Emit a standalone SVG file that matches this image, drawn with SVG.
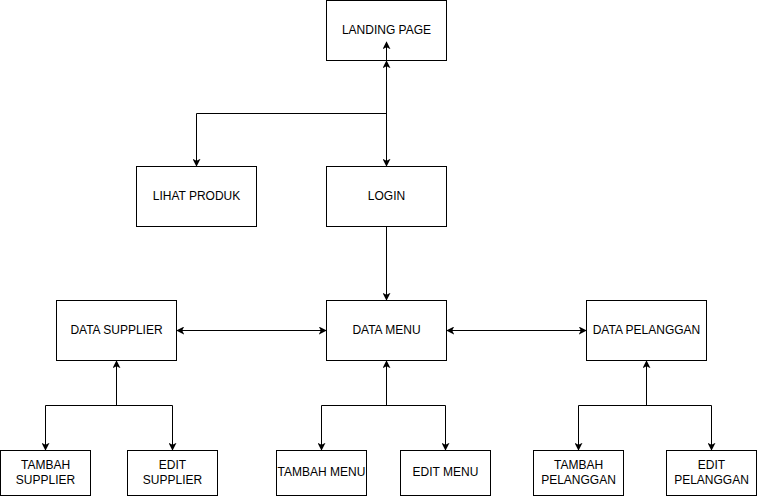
<svg xmlns="http://www.w3.org/2000/svg" width="757" height="496" viewBox="0 0 757 496">
<defs>
<marker id="arr" viewBox="0 0 10 10" refX="9" refY="5" markerWidth="8" markerHeight="8" markerUnits="userSpaceOnUse" orient="auto-start-reverse">
<path d="M0,0 L10,5 L0,10 L2.5,5 Z" fill="#000"/>
</marker>
</defs>
<style>
.box{fill:#fff;stroke:#000;stroke-width:1}
.lbl{font-family:"Liberation Sans",Arial,sans-serif;font-size:12px;fill:#000;text-anchor:middle;dominant-baseline:central}
.edge{fill:none;stroke:#000;stroke-width:1}
</style>
<rect width="757" height="496" fill="#fff"/>
<g id="landing"><rect class="box" x="326.5" y="0.5" width="120" height="60"/><text class="lbl" x="386.5" y="30">LANDING PAGE</text></g>
<g id="lihat"><rect class="box" x="136.5" y="166.5" width="120" height="60"/><text class="lbl" x="196.5" y="196">LIHAT PRODUK</text></g>
<g id="login"><rect class="box" x="326.5" y="166.5" width="120" height="60"/><text class="lbl" x="386.5" y="196">LOGIN</text></g>
<g id="supplier"><rect class="box" x="56.5" y="300.5" width="120" height="60"/><text class="lbl" x="116.5" y="330">DATA SUPPLIER</text></g>
<g id="menu"><rect class="box" x="326.5" y="300.5" width="120" height="60"/><text class="lbl" x="386.5" y="330">DATA MENU</text></g>
<g id="pelanggan"><rect class="box" x="586.5" y="300.5" width="120" height="60"/><text class="lbl" x="646.5" y="330">DATA PELANGGAN</text></g>
<g id="tambahsupplier"><rect class="box" x="0.5" y="450.5" width="90" height="45"/><text class="lbl" x="45.5" y="465">TAMBAH</text><text class="lbl" x="45.5" y="480">SUPPLIER</text></g>
<g id="editsupplier"><rect class="box" x="127.5" y="450.5" width="90" height="45"/><text class="lbl" x="172.5" y="465">EDIT</text><text class="lbl" x="172.5" y="480">SUPPLIER</text></g>
<g id="tambahmenu"><rect class="box" x="276.5" y="450.5" width="90" height="45"/><text class="lbl" x="321.5" y="472">TAMBAH MENU</text></g>
<g id="editmenu"><rect class="box" x="400.5" y="450.5" width="90" height="45"/><text class="lbl" x="445.5" y="472">EDIT MENU</text></g>
<g id="tambahpelanggan"><rect class="box" x="533.5" y="450.5" width="90" height="45"/><text class="lbl" x="578.5" y="465">TAMBAH</text><text class="lbl" x="578.5" y="480">PELANGGAN</text></g>
<g id="editpelanggan"><rect class="box" x="666.5" y="450.5" width="90" height="45"/><text class="lbl" x="711.5" y="465">EDIT</text><text class="lbl" x="711.5" y="480">PELANGGAN</text></g>
<g id="connectors">
<path class="edge" d="M386.5,61 L386.5,113.5 L196.5,113.5 L196.5,166" marker-start="url(#arr)" marker-end="url(#arr)"/>
<path class="edge" d="M386.5,42 L386.5,166" marker-start="url(#arr)" marker-end="url(#arr)"/>
<path class="edge" d="M386.5,226.5 L386.5,300" marker-end="url(#arr)"/>
<path class="edge" d="M177,330.5 L326,330.5" marker-start="url(#arr)" marker-end="url(#arr)"/>
<path class="edge" d="M447,330.5 L586,330.5" marker-start="url(#arr)" marker-end="url(#arr)"/>
<path class="edge" d="M116.5,361 L116.5,405.5" marker-start="url(#arr)"/>
<path class="edge" d="M45.5,450 L45.5,405.5 L172.5,405.5 L172.5,450" marker-start="url(#arr)" marker-end="url(#arr)"/>
<path class="edge" d="M386.5,361 L386.5,405.5" marker-start="url(#arr)"/>
<path class="edge" d="M321.5,450 L321.5,405.5 L445.5,405.5 L445.5,450" marker-start="url(#arr)" marker-end="url(#arr)"/>
<path class="edge" d="M646.5,361 L646.5,405.5" marker-start="url(#arr)"/>
<path class="edge" d="M578.5,450 L578.5,405.5 L711.5,405.5 L711.5,450" marker-start="url(#arr)" marker-end="url(#arr)"/>
</g>
</svg>
